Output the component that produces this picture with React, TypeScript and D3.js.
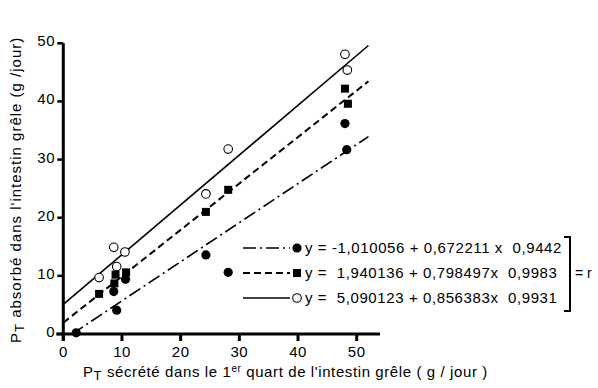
import React from "react";
import * as d3 from "d3";

const xTicks = [0, 10, 20, 30, 40, 50];
const yTicks = [0, 10, 20, 30, 40, 50];

// Filled circles series
const circleX = [2.2, 8.6, 9.1, 10.6, 24.3, 28.1, 48.0, 48.3];
const circleY = [0.2, 7.3, 4.1, 9.4, 13.6, 10.6, 36.2, 31.7];
// Filled squares series
const squareX = [6.1, 8.7, 8.9, 10.7, 24.3, 28.1, 48.0, 48.5];
const squareY = [6.9, 8.7, 10.2, 10.6, 21.0, 24.8, 42.2, 39.6];
// Open circles series
const openX = [6.1, 8.6, 9.1, 10.5, 24.3, 28.1, 48.0, 48.4];
const openY = [9.7, 14.9, 11.6, 14.1, 24.1, 31.8, 48.1, 45.4];

// Regression lines: intercept, slope, x range
const intercepts = [-1.010056, 1.940136, 5.090123];
const slopes = [0.672211, 0.798497, 0.856383];
const lineStart = [1.5, 0, 0];
const lineEnd = [52, 52, 52];
const equations = [
  "y = -1,010056 + 0,672211 x  0,9442",
  "y =  1,940136 + 0,798497x  0,9983",
  "y =  5,090123 + 0,856383x  0,9931",
];

const dashes = ["13,4,2,4", "7,4", ""];
const FONT = "'Liberation Sans', Arial, sans-serif";

export default function App() {
  const W = 598, H = 388;
  const x = d3.scaleLinear().domain([0, 50]).range([63.3, 356.7]);
  const y = d3.scaleLinear().domain([0, 50]).range([334, 43.3]);
  const line = d3.line<[number, number]>().x(d => x(d[0])).y(d => y(d[1]));

  const regLines = intercepts.map((a, i) => {
    const xs = [lineStart[i], lineEnd[i]];
    return line(xs.map(v => [v, a + slopes[i] * v] as [number, number]));
  });

  const legendY = [248, 273, 298];
  const legX0 = 243, legX1 = 290, markX = 297, textX = 305;

  const marker = (kind: number, cx: number, cy: number, key: any) => {
    if (kind === 0) return <circle key={key} cx={cx} cy={cy} r={4.6} fill="#000" />;
    if (kind === 1) return <rect key={key} x={cx - 4} y={cy - 4} width={8} height={8} fill="#000" />;
    return <circle key={key} cx={cx} cy={cy} r={4.3} fill="#fff" stroke="#000" strokeWidth={1.1} />;
  };

  return (
    <svg width={W} height={H} style={{ position: "absolute", left: 0, top: 0, background: "#fff" }} fontFamily={FONT}>
      <rect width={W} height={H} fill="#fff" />
      {/* axes */}
      <line x1={x(0)} x2={x(0)} y1={y(50)} y2={y(0) + 7} stroke="#000" strokeWidth={3} />
      <line x1={x(0) - 7} x2={380} y1={y(0)} y2={y(0)} stroke="#000" strokeWidth={3} />
      {xTicks.map(t => (
        <g key={"xt" + t}>
          <line x1={x(t)} x2={x(t)} y1={y(0)} y2={y(0) + 7} stroke="#000" strokeWidth={3} />
          <text x={x(t)} y={357} fontSize={15} textAnchor="middle" letterSpacing={0.5}>{t}</text>
        </g>
      ))}
      {yTicks.map(t => (
        <g key={"yt" + t}>
          <line x1={x(0) - 6} x2={x(0)} y1={y(t)} y2={y(t)} stroke="#000" strokeWidth={2.5} />
          <text x={55} y={y(t) + 3} fontSize={15} textAnchor="end" letterSpacing={0.5}>{t}</text>
        </g>
      ))}
      {/* regression lines */}
      {regLines.map((d, i) => (
        <path key={"l" + i} d={d || ""} fill="none" stroke="#000" strokeWidth={i === 1 ? 2 : 1.6} strokeDasharray={dashes[i]} />
      ))}
      {/* points */}
      {circleX.map((v, i) => marker(0, x(v), y(circleY[i]), "c" + i))}
      {squareX.map((v, i) => marker(1, x(v), y(squareY[i]), "s" + i))}
      {openX.map((v, i) => marker(2, x(v), y(openY[i]), "o" + i))}
      {/* legend */}
      {equations.map((eq, i) => (
        <g key={"lg" + i}>
          <line x1={legX0} x2={legX1} y1={legendY[i]} y2={legendY[i]} stroke="#000" strokeWidth={i === 1 ? 2 : 1.6} strokeDasharray={dashes[i]} />
          {marker(i, markX, legendY[i], "lm" + i)}
          <text x={textX} y={legendY[i] + 5} fontSize={15} letterSpacing={0.6} style={{ whiteSpace: "pre" }} xmlSpace="preserve">{eq}</text>
        </g>
      ))}
      <path d={`M564,237 H570 V311 H564`} fill="none" stroke="#000" strokeWidth={2} />
      <text x={575} y={278} fontSize={14}>= r</text>
      {/* axis titles */}
      <text x={83} y={377} fontSize={15} letterSpacing={0.6}>
        P<tspan fontSize={13} dy={3}>T</tspan>
        <tspan dy={-3}> sécrété dans le 1</tspan>
        <tspan fontSize={10} dy={-5}>er</tspan>
        <tspan dy={5}> quart de l'intestin grêle ( g / jour )</tspan>
      </text>
      <text transform="translate(21,343) rotate(-90)" fontSize={15} letterSpacing={1}>
        P<tspan fontSize={13} dy={3}>T</tspan>
        <tspan dy={-3}> absorbé dans l'intestin grêle (g /jour)</tspan>
      </text>
    </svg>
  );
}
